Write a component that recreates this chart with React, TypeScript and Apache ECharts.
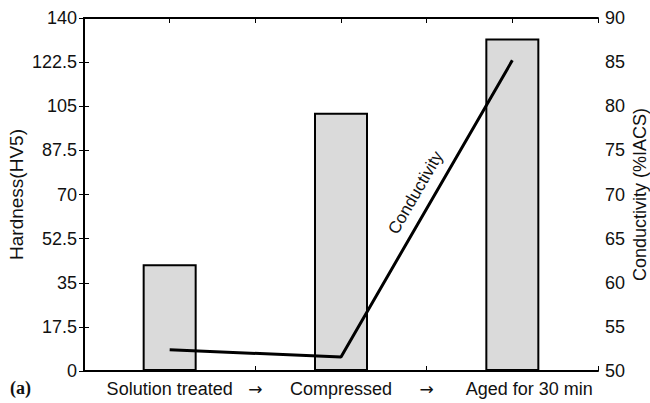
import React, { useEffect, useRef } from "react";
import * as echarts from "echarts";

const stepPositions = [1, 3, 5];
const stepLabels: Record<number, string> = {
  1: "Solution treated",
  2: "→",
  3: "Compressed",
  4: "→",
  5: "Aged for 30 min",
};
const hardness = [42.3, 102.4, 131.9];
const conductivity = [52.4, 51.6, 85.2];
const leftTicks = { min: 0, max: 140, interval: 17.5 };
const rightTicks = { min: 50, max: 90, interval: 5 };

const FONT = "Liberation Sans, Arial, sans-serif";

export default function App() {
  const ref = useRef<HTMLDivElement>(null);
  useEffect(() => {
    if (!ref.current) return;
    const chart = echarts.init(ref.current, undefined, { renderer: "svg" });
    const axisLine = { show: true, lineStyle: { color: "#000", width: 2 } };
    const tick = { show: true, inside: true, length: 5, lineStyle: { color: "#000", width: 1 } };
    chart.setOption({
      animation: false,
      backgroundColor: "#fff",
      grid: { left: 84, right: 52, top: 18, bottom: 32, outerBoundsMode: "none", containLabel: false },
      xAxis: [
        {
          type: "value",
          min: 0,
          max: 6,
          interval: 1,
          position: "bottom",
          axisLine,
          axisTick: tick,
          splitLine: { show: false },
          axisLabel: {
            show: true,
            showMinLabel: true,
            showMaxLabel: true,
            margin: 9,
            color: "#111",
            fontFamily: FONT,
            fontSize: 18,
            formatter: (v: number) => {
              const s = stepLabels[v];
              if (!s) return "";
              if (v === 5) return "{shift|" + s + "}";
              if (s === "→") return "{arrow|" + s + "}";
              return s;
            },
            rich: {
              shift: { fontFamily: FONT, fontSize: 18, color: "#111", padding: [0, 0, 0, 34] },
              arrow: { fontFamily: "DejaVu Sans", fontSize: 17, color: "#111" },
            },
          },
        },
        {
          type: "value",
          min: 0,
          max: 6,
          interval: 1,
          position: "top",
          axisLine,
          axisTick: tick,
          splitLine: { show: false },
          axisLabel: { show: false },
        },
      ],
      yAxis: [
        {
          type: "value",
          ...leftTicks,
          position: "left",
          name: "Hardness(HV5)",
          nameLocation: "middle",
          nameRotate: 90,
          nameGap: 58,
          nameMoveOverlap: false,
          nameTextStyle: { fontFamily: FONT, fontSize: 19, color: "#111" },
          axisLine,
          axisTick: tick,
          splitLine: { show: false },
          axisLabel: { margin: 7, color: "#111", fontFamily: FONT, fontSize: 18 },
        },
        {
          type: "value",
          ...rightTicks,
          position: "right",
          name: "Conductivity (%IACS)",
          nameLocation: "middle",
          nameRotate: 90,
          nameGap: 33,
          nameMoveOverlap: false,
          nameTextStyle: { fontFamily: FONT, fontSize: 18, color: "#111" },
          axisLine,
          axisTick: tick,
          splitLine: { show: false },
          axisLabel: { margin: 7, color: "#111", fontFamily: FONT, fontSize: 18 },
        },
      ],
      series: [
        {
          type: "bar",
          xAxisIndex: 0,
          yAxisIndex: 0,
          barWidth: 54,
          data: stepPositions.map((x, i) => [x, hardness[i]]),
          itemStyle: { color: "#dadada", borderColor: "#000", borderWidth: 2 },
          z: 2,
        },
        {
          type: "line",
          xAxisIndex: 0,
          yAxisIndex: 1,
          data: stepPositions.map((x, i) => [x, conductivity[i]]),
          showSymbol: false,
          symbol: "none",
          lineStyle: { color: "#000", width: 3 },
          z: 3,
        },
      ],
    });
    const p = chart.convertToPixel({ xAxisIndex: 0, yAxisIndex: 1 }, [3.87, 70.2]) as number[];
    chart.setOption({
      graphic: [
        {
          type: "text",
          x: p[0],
          y: p[1],
          rotation: (60 * Math.PI) / 180,
          style: {
            text: "Conductivity",
            fontFamily: FONT,
            fontSize: 17,
            fill: "#111",
            align: "center",
            verticalAlign: "middle",
          },
        },
        {
          type: "text",
          left: 10,
          top: 379,
          style: {
            text: "(a)",
            fontFamily: "Liberation Serif, Times New Roman, serif",
            fontWeight: "bold",
            fontSize: 18,
            fill: "#111",
          },
        },
      ],
    });
    return () => chart.dispose();
  }, []);
  return (
    <div
      ref={ref}
      style={{ position: "fixed", left: 0, top: 0, width: 650, height: 403 }}
    />
  );
}
